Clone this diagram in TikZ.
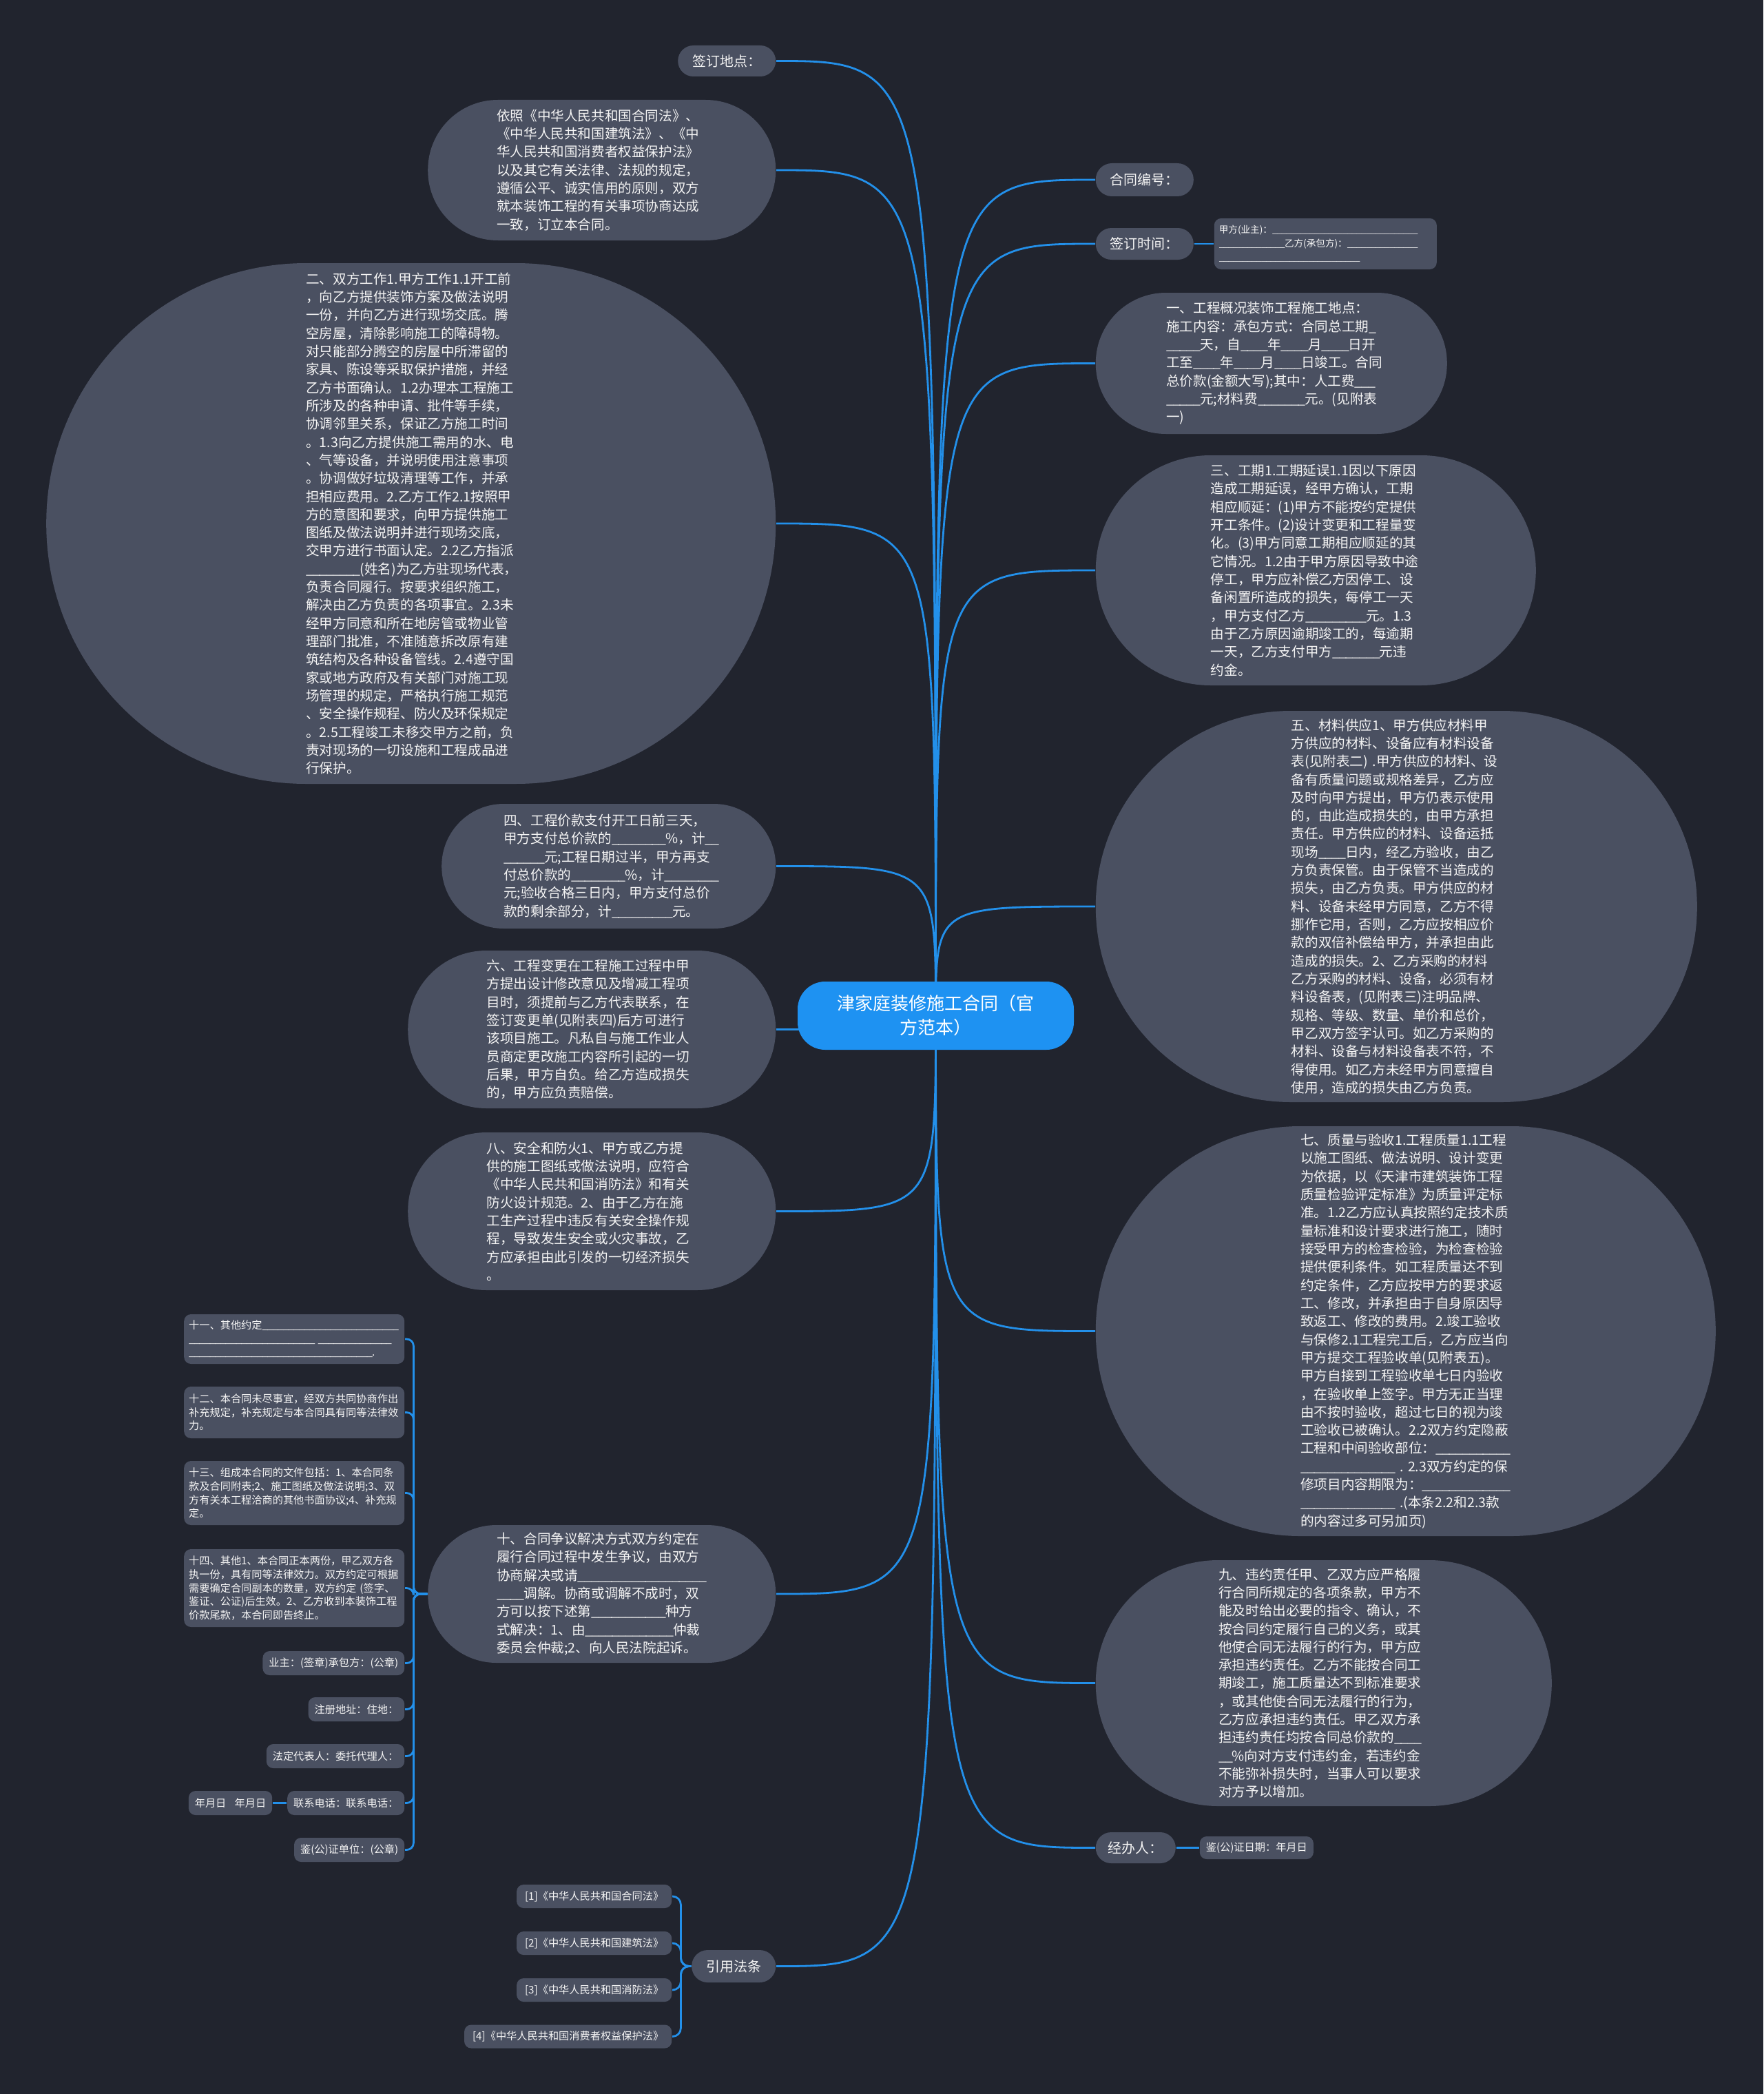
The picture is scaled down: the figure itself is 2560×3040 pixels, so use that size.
\documentclass[tikz,border=0pt]{standalone}
\usepackage{fontspec}
\setmainfont{Noto Sans CJK SC}
\usetikzlibrary{calc}
\definecolor{bgc}{HTML}{21242E}
\definecolor{nodec}{HTML}{4A5061}
\definecolor{linec}{HTML}{2390EA}
\definecolor{ctrc}{HTML}{1E92F2}
\definecolor{txtc}{HTML}{F4F4F4}
\pgfdeclarelayer{background}
\pgfsetlayers{background,main}
\newcommand\szCenter{\fontsize{6.5pt}{8.75pt}\selectfont}
\newcommand\szMain{\fontsize{4.9pt}{6.58pt}\selectfont}
\newcommand\szLabel{\fontsize{5pt}{6pt}\selectfont}
\newcommand\szSmall{\fontsize{3.8pt}{4.9pt}\selectfont}
\newcommand\szTiny{\fontsize{3.4pt}{5pt}\selectfont}
\newcount\ubcnt
\newcommand\ublank[1]{\ubcnt=0\relax\loop\ifnum\ubcnt<#1\relax\makebox[0.5em][l]{\_}\advance\ubcnt by 1\relax\repeat}
\tikzset{
  boxbase/.style={fill=nodec, text=txtc, inner sep=0pt},
  bigbox/.style={boxbase, font=\szMain, align=left, text width=76.25pt},
  labelbox/.style={boxbase, font=\szLabel, align=center},
  smallbox/.style={boxbase, font=\szSmall, rounded corners=2.5pt, minimum height=8.75pt, inner xsep=2.25pt},
  notebox/.style={boxbase, font=\szSmall, rounded corners=2.5pt, align=left, text width=76.5pt, minimum width=80pt},
  lawbox/.style={boxbase, font=\szSmall, rounded corners=2.5pt, minimum height=8.5pt, inner xsep=3pt},
  link/.style={draw=linec, line width=0.7pt},
}
\begin{document}
\begin{tikzpicture}[x=0.25pt,y=-0.25pt]
\useasboundingbox (0,0) rectangle (2560,3040);

% centre
\node[fill=ctrc, text=white, font=\szCenter, align=center, inner sep=0pt, minimum width=100.25pt, minimum height=24.75pt, rounded corners=10pt] (ctr) at (1358.5,1474.5) {津家庭装修施工合同（官\\方范本）};

% ---------- left side ----------
\node[labelbox, anchor=east, minimum width=35.5pt, minimum height=11.25pt, rounded corners=5.6pt] (qddd) at (1127,88.5) {签订地点：};

\node[bigbox, anchor=east, minimum width=126.25pt, minimum height=51pt, rounded corners=25.4pt] (yizhao) at (1127,247) {依照《中华人民共和国合同法》、\\
《中华人民共和国建筑法》、《中\\
华人民共和国消费者权益保护法》\\
以及其它有关法律、法规的规定，\\
遵循公平、诚实信用的原则，双方\\
就本装饰工程的有关事项协商达成\\
一致，订立本合同。};

\node[bigbox, anchor=east, minimum width=264.75pt, minimum height=189pt, rounded corners=94.4pt] (er) at (1127,760) {二、双方工作1.甲方工作1.1开工前\\
，向乙方提供装饰方案及做法说明\\
一份，并向乙方进行现场交底。腾\\
空房屋，清除影响施工的障碍物。\\
对只能部分腾空的房屋中所滞留的\\
家具、陈设等采取保护措施，并经\\
乙方书面确认。1.2办理本工程施工\\
所涉及的各种申请、批件等手续，\\
协调邻里关系，保证乙方施工时间\\
。1.3向乙方提供施工需用的水、电\\
、气等设备，并说明使用注意事项\\
。协调做好垃圾清理等工作，并承\\
担相应费用。2.乙方工作2.1按照甲\\
方的意图和要求，向甲方提供施工\\
图纸及做法说明并进行现场交底，\\
交甲方进行书面认定。2.2乙方指派\\
\ublank{8}(姓名)为乙方驻现场代表，\\
负责合同履行。按要求组织施工，\\
解决由乙方负责的各项事宜。2.3未\\
经甲方同意和所在地房管或物业管\\
理部门批准，不准随意拆改原有建\\
筑结构及各种设备管线。2.4遵守国\\
家或地方政府及有关部门对施工现\\
场管理的规定，严格执行施工规范\\
、安全操作规程、防火及环保规定\\
。2.5工程竣工未移交甲方之前，负\\
责对现场的一切设施和工程成品进\\
行保护。};

\node[bigbox, anchor=east, minimum width=121.25pt, minimum height=45.25pt, rounded corners=22.5pt] (si) at (1127,1257.5) {四、工程价款支付开工日前三天，\\
甲方支付总价款的\ublank{8}\%，计\ublank{2}\\
\ublank{6}元;工程日期过半，甲方再支\\
付总价款的\ublank{8}\%，计\ublank{8}\\
元;验收合格三日内，甲方支付总价\\
款的剩余部分，计\ublank{9}元。};

\node[bigbox, anchor=east, minimum width=133.5pt, minimum height=57.25pt, rounded corners=28.5pt] (liu) at (1127,1494.5) {六、工程变更在工程施工过程中甲\\
方提出设计修改意见及增减工程项\\
目时，须提前与乙方代表联系，在\\
签订变更单(见附表四)后方可进行\\
该项目施工。凡私自与施工作业人\\
员商定更改施工内容所引起的一切\\
后果，甲方自负。给乙方造成损失\\
的，甲方应负责赔偿。};

\node[bigbox, anchor=east, minimum width=133.5pt, minimum height=57.25pt, rounded corners=28.5pt] (ba) at (1127,1758.5) {八、安全和防火1、甲方或乙方提\\
供的施工图纸或做法说明，应符合\\
《中华人民共和国消防法》和有关\\
防火设计规范。2、由于乙方在施\\
工生产过程中违反有关安全操作规\\
程，导致发生安全或火灾事故，乙\\
方应承担由此引发的一切经济损失\\
。};

\node[bigbox, anchor=east, minimum width=126.25pt, minimum height=50pt, rounded corners=24.9pt] (shi) at (1127,2314) {十、合同争议解决方式双方约定在\\
履行合同过程中发生争议，由双方\\
协商解决或请\ublank{19}\\
\ublank{4}调解。协商或调解不成时，双\\
方可以按下述第\ublank{11}种方\\
式解决：1、由\ublank{13}仲裁\\
委员会仲裁;2、向人民法院起诉。};

\node[labelbox, anchor=east, minimum width=30.5pt, minimum height=11.75pt, rounded corners=5.8pt] (yyfl) at (1127,2854.5) {引用法条};

% children of 十
\node[notebox, anchor=east, minimum height=18pt] (s11) at (588,1944) {十一、其他约定\ublank{26}\\
\ublank{24}~\ublank{14}\\
\ublank{35}.};
\node[notebox, anchor=east, minimum height=18.75pt] (s12) at (588,2050.5) {十二、本合同未尽事宜，经双方共同协商作出\\
补充规定，补充规定与本合同具有同等法律效\\
力。};
\node[notebox, anchor=east, minimum height=23.25pt] (s13) at (588,2167.5) {十三、组成本合同的文件包括：1、本合同条\\
款及合同附表;2、施工图纸及做法说明;3、双\\
方有关本工程洽商的其他书面协议;4、补充规\\
定。};
\node[notebox, anchor=east, minimum height=28.25pt] (s14) at (588,2305.5) {十四、其他1、本合同正本两份，甲乙双方各\\
执一份，具有同等法律效力。双方约定可根据\\
需要确定合同副本的数量，双方约定~(签字、\\
鉴证、公证)后生效。2、乙方收到本装饰工程\\
价款尾款，本合同即告终止。};
\node[smallbox, anchor=east] (own) at (588,2414.5) {业主：(签章)承包方：(公章)};
\node[smallbox, anchor=east] (addr) at (588,2481.5) {注册地址：住地：};
\node[smallbox, anchor=east] (rep) at (588,2549.5) {法定代表人：委托代理人：};
\node[smallbox, anchor=east] (tel) at (588,2617.5) {联系电话：联系电话：};
\node[smallbox, anchor=east] (date) at (396,2617.5) {年月日\hspace{0.8em}年月日};
\node[smallbox, anchor=east] (nota) at (588,2685.5) {鉴(公)证单位：(公章)};

% children of 引用法条
\node[lawbox, anchor=east] (l1) at (976,2753) {[1]《中华人民共和国合同法》};
\node[lawbox, anchor=east] (l2) at (976,2821) {[2]《中华人民共和国建筑法》};
\node[lawbox, anchor=east] (l3) at (976,2889) {[3]《中华人民共和国消防法》};
\node[lawbox, anchor=east] (l4) at (976,2956.5) {[4]《中华人民共和国消费者权益保护法》};

% ---------- right side ----------
\node[labelbox, anchor=west, minimum width=35.5pt, minimum height=12pt, rounded corners=5.9pt] (htbh) at (1590,261) {合同编号：};
\node[labelbox, anchor=west, minimum width=35.5pt, minimum height=11.5pt, rounded corners=5.7pt] (qdsj) at (1590,354) {签订时间：};
\node[boxbase, font=\szTiny, align=left, text width=77.25pt, minimum width=80.75pt, minimum height=18.5pt, rounded corners=2.5pt, anchor=west] (jiafang) at (1762,354) {甲方(业主)：\ublank{31}\\
\ublank{14}乙方(承包方)：\ublank{15}\\
\ublank{30}};

\node[bigbox, anchor=west, minimum width=127.5pt, minimum height=51.25pt, rounded corners=25.5pt] (yi) at (1590,527.5) {一、工程概况装饰工程施工地点：\\
施工内容：承包方式：合同总工期\ublank{1}\\
\ublank{5}天，自\ublank{4}年\ublank{4}月\ublank{4}日开\\
工至\ublank{4}年\ublank{4}月\ublank{4}日竣工。合同\\
总价款(金额大写);其中：人工费\ublank{3}\\
\ublank{5}元;材料费\ublank{7}元。(见附表\\
一)};

\node[bigbox, anchor=west, minimum width=159.75pt, minimum height=83.5pt, rounded corners=41.7pt] (san) at (1590,828) {三、工期1.工期延误1.1因以下原因\\
造成工期延误，经甲方确认，工期\\
相应顺延：(1)甲方不能按约定提供\\
开工条件。(2)设计变更和工程量变\\
化。(3)甲方同意工期相应顺延的其\\
它情况。1.2由于甲方原因导致中途\\
停工，甲方应补偿乙方因停工、设\\
备闲置所造成的损失，每停工一天\\
，甲方支付乙方\ublank{9}元。1.3\\
由于乙方原因逾期竣工的，每逾期\\
一天，乙方支付甲方\ublank{7}元违\\
约金。};

\node[bigbox, anchor=west, minimum width=218.25pt, minimum height=142pt, rounded corners=70.9pt] (wu) at (1590,1316) {五、材料供应1、甲方供应材料甲\\
方供应的材料、设备应有材料设备\\
表(见附表二)~.甲方供应的材料、设\\
备有质量问题或规格差异，乙方应\\
及时向甲方提出，甲方仍表示使用\\
的，由此造成损失的，由甲方承担\\
责任。甲方供应的材料、设备运抵\\
现场\ublank{4}日内，经乙方验收，由乙\\
方负责保管。由于保管不当造成的\\
损失，由乙方负责。甲方供应的材\\
料、设备未经甲方同意，乙方不得\\
挪作它用，否则，乙方应按相应价\\
款的双倍补偿给甲方，并承担由此\\
造成的损失。2、乙方采购的材料\\
乙方采购的材料、设备，必须有材\\
料设备表，(见附表三)注明品牌、\\
规格、等级、数量、单价和总价，\\
甲乙双方签字认可。如乙方采购的\\
材料、设备与材料设备表不符，不\\
得使用。如乙方未经甲方同意擅自\\
使用，造成的损失由乙方负责。};

\node[bigbox, anchor=west, minimum width=225pt, minimum height=148.75pt, rounded corners=74.3pt] (qi) at (1590,1932.5) {七、质量与验收1.工程质量1.1工程\\
以施工图纸、做法说明、设计变更\\
为依据，以《天津市建筑装饰工程\\
质量检验评定标准》为质量评定标\\
准。1.2乙方应认真按照约定技术质\\
量标准和设计要求进行施工，随时\\
接受甲方的检查检验，为检查检验\\
提供便利条件。如工程质量达不到\\
约定条件，乙方应按甲方的要求返\\
工、修改，并承担由于自身原因导\\
致返工、修改的费用。2.竣工验收\\
与保修2.1工程完工后，乙方应当向\\
甲方提交工程验收单(见附表五)。\\
甲方自接到工程验收单七日内验收\\
，在验收单上签字。甲方无正当理\\
由不按时验收，超过七日的视为竣\\
工验收已被确认。2.2双方约定隐蔽\\
工程和中间验收部位：\ublank{11}\\
\ublank{14}~.~2.3双方约定的保\\
修项目内容期限为：\ublank{13}\\
\ublank{14}~.(本条2.2和2.3款\\
的内容过多可另加页)};

\node[bigbox, anchor=west, minimum width=165.5pt, minimum height=89.25pt, rounded corners=44.5pt] (jiu) at (1590,2443.5) {九、违约责任甲、乙双方应严格履\\
行合同所规定的各项条款，甲方不\\
能及时给出必要的指令、确认，不\\
按合同约定履行自己的义务，或其\\
他使合同无法履行的行为，甲方应\\
承担违约责任。乙方不能按合同工\\
期竣工，施工质量达不到标准要求\\
，或其他使合同无法履行的行为，\\
乙方应承担违约责任。甲乙双方承\\
担违约责任均按合同总价款的\ublank{4}\\
\ublank{2}\%向对方支付违约金，若违约金\\
不能弥补损失时，当事人可以要求\\
对方予以增加。};

\node[labelbox, anchor=west, minimum width=29pt, minimum height=11.25pt, rounded corners=5.6pt] (jbr) at (1590,2682.5) {经办人：};
\node[smallbox, anchor=west, minimum height=8.25pt] (jzrq) at (1741,2682.5) {鉴(公)证日期：年月日};

% ---------- connectors ----------
\begin{pgfonlayer}{background}
\fill[bgc] (0,0) rectangle (2560,3040);
\foreach \n in {qddd,yizhao,er,si,liu,ba,shi,yyfl}
  \draw[link] (ctr.center) .. controls (ctr.center |- \n.east) .. (\n.east);
\foreach \n in {htbh,qdsj,yi,san,wu,qi,jiu,jbr}
  \draw[link] (ctr.center) .. controls (ctr.center |- \n.west) .. (\n.west);
\draw[link] (qdsj.east) -- (jiafang.west);
\draw[link] (jbr.east) -- (jzrq.west);
\foreach \n in {s11,s12,s13,s14,own,addr,rep,tel,nota}
  \draw[link, rounded corners=2.5pt] (shi.west) -- ++(-20,0) |- (\n.east);
\draw[link] (tel.west) -- (date.east);
\foreach \n in {l1,l2,l3,l4}
  \draw[link, rounded corners=3pt] (yyfl.west) -- ++(-15,0) |- (\n.east);
\end{pgfonlayer}
\end{tikzpicture}
\end{document}
